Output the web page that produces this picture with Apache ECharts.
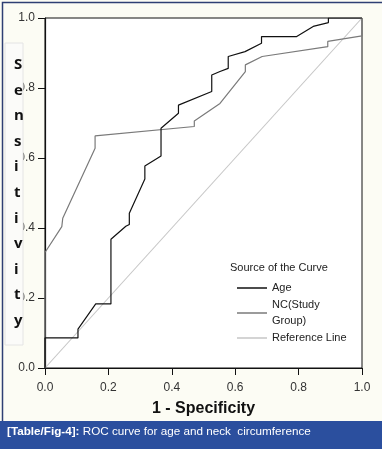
<!DOCTYPE html>
<html><head><meta charset="utf-8">
<script src="https://cdn.jsdelivr.net/npm/echarts@6/dist/echarts.min.js"></script>
<style>html,body{margin:0;padding:0;background:#fcfcf4;}#c{width:382px;height:449px;}</style>
</head><body><div id="c"></div>
<script>
const ageX = [0, 0, 0.104, 0.104, 0.16, 0.208, 0.208, 0.255, 0.266, 0.266, 0.315, 0.315, 0.366, 0.366, 0.421, 0.421, 0.526, 0.526, 0.552, 0.578, 0.578, 0.631, 0.683, 0.683, 0.794, 0.846, 0.894, 0.894, 1.0];
const ageY = [0, 0.086, 0.086, 0.111, 0.183, 0.183, 0.368, 0.405, 0.41, 0.442, 0.54, 0.577, 0.606, 0.685, 0.728, 0.751, 0.79, 0.837, 0.847, 0.856, 0.89, 0.904, 0.928, 0.947, 0.947, 0.976, 0.987, 1.0, 1.0];
const ncX = [0, 0, 0.053, 0.056, 0.158, 0.158, 0.471, 0.471, 0.552, 0.632, 0.632, 0.685, 0.892, 0.892, 1.0, 1.0];
const ncY = [0, 0.33, 0.404, 0.428, 0.628, 0.663, 0.69, 0.706, 0.756, 0.847, 0.866, 0.89, 0.918, 0.933, 0.949, 1.0];
const refX = [0, 1];
const refY = [0, 1];
const seriesNames = ['Age', 'NC(Study\nGroup)', 'Reference Line'];
const legendTitle = 'Source of the Curve';
const xTitle = '1 - Specificity';
const yTitle = 'Sensitivity';
const captionBold = '[Table/Fig-4]:';
const captionText = ' ROC curve for age and neck  circumference';

const zip = (xs, ys) => xs.map((x, i) => [x, ys[i]]);
const chart = echarts.init(document.getElementById('c'), null, {renderer: 'canvas'});
const axisFont = {fontFamily: 'Liberation Sans', fontSize: 12, color: '#333'};
chart.setOption({
  backgroundColor: '#fcfcf4',
  animation: false,
  grid: {left: 45, right: 20, top: 18, bottom: 81, show: true, backgroundColor: '#ffffff', borderColor: '#111', borderWidth: 1},
  xAxis: {
    type: 'value', min: 0, max: 1, interval: 0.2,
    axisLine: {show: true, onZero: false, lineStyle: {color: '#111', width: 1.2}},
    axisTick: {show: true, length: 7, lineStyle: {color: '#111'}},
    axisLabel: Object.assign({margin: 14, formatter: v => v.toFixed(1)}, axisFont),
    splitLine: {show: false},
    name: xTitle, nameLocation: 'middle', nameGap: 33,
    nameTextStyle: {fontFamily: 'Liberation Sans', fontSize: 16, fontWeight: 'bold', color: '#111'}
  },
  yAxis: {
    type: 'value', min: 0, max: 1, interval: 0.2,
    axisLine: {show: true, onZero: false, lineStyle: {color: '#111', width: 1.2}},
    axisTick: {show: true, length: 7, lineStyle: {color: '#111'}},
    axisLabel: Object.assign({margin: 10, formatter: v => v.toFixed(1)}, axisFont),
    splitLine: {show: false}
  },
  legend: {
    orient: 'vertical', left: 232, top: 275, itemWidth: 30, itemHeight: 1.5, itemGap: 1,
    icon: 'rect', data: seriesNames,
    textStyle: {fontFamily: 'Liberation Sans', fontSize: 11, color: '#222', lineHeight: 16}
  },
  series: [
    {name: seriesNames[0], type: 'line', data: zip(ageX, ageY), symbol: 'none', color: '#111', lineStyle: {color: '#111', width: 1.2}, z: 4},
    {name: seriesNames[1], type: 'line', data: zip(ncX, ncY), symbol: 'none', color: '#7a7a7a', lineStyle: {color: '#7a7a7a', width: 1.2}, z: 3},
    {name: seriesNames[2], type: 'line', data: zip(refX, refY), symbol: 'none', color: '#c6c6c6', lineStyle: {color: '#c6c6c6', width: 1.1}, z: 2}
  ],
  graphic: [
    {type: 'rect', left: 0, top: 0, z: 100, silent: true, shape: {x: 0.5, y: 0.5, width: 381, height: 448}, style: {fill: 'none', stroke: '#2e3f73', lineWidth: 1.5}},
    {type: 'rect', z: 101, silent: true, shape: {x: 0, y: 421, width: 382, height: 28}, style: {fill: '#2b4f9e'}},
    {type: 'text', z: 102, silent: true, x: 7, y: 432, style: {
      text: '{b|' + captionBold + '}{n|' + captionText + '}', verticalAlign: 'middle',
      rich: {b: {fontFamily: 'Liberation Sans', fontSize: 11.7, fontWeight: 'bold', fill: '#fff'}, n: {fontFamily: 'Liberation Sans', fontSize: 11.7, fill: '#fff'}}
    }},
    {type: 'rect', z: 50, silent: true, shape: {x: 5, y: 43, width: 18, height: 302}, style: {fill: '#fbfbf9', stroke: '#e4e4e4', lineWidth: 1}},
    {type: 'text', z: 51, silent: true, x: 14, y: 52, style: {
      text: yTitle.split('').join('\n'), fontFamily: 'Open Sans', fontSize: 15, fontWeight: 'bold', fill: '#111', lineHeight: 25.6, align: 'left', verticalAlign: 'top'
    }},
    {type: 'text', z: 51, silent: true, x: 230, y: 268, style: {
      text: legendTitle, fontFamily: 'Liberation Sans', fontSize: 11, fill: '#222', verticalAlign: 'middle'
    }}
  ]
});
</script></body></html>
